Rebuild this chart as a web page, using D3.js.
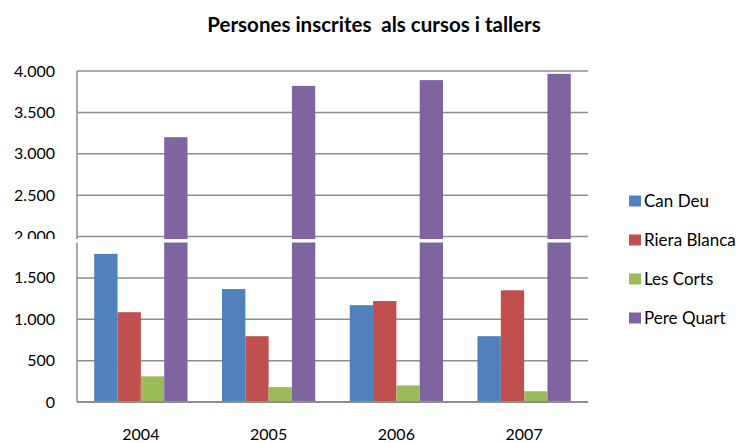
<!DOCTYPE html>
<html>
<head>
<meta charset="utf-8">
<script src="https://cdn.jsdelivr.net/npm/d3@7"></script>
<style>
	body { margin: 0; background: #fff; }
	text { font-family: Lato, "Open Sans", sans-serif; fill: #000; }
</style>
</head>
<body>
<svg id="chart" width="736" height="443"></svg>
<script>
const years = ['2004', '2005', '2006', '2007'];
const seriesNames = ['Can Deu', 'Riera Blanca', 'Les Corts', 'Pere Quart'];
const canDeu = [1790, 1365, 1170, 795];
const rieraBlanca = [1085, 795, 1220, 1350];
const lesCorts = [310, 180, 200, 130];
const pereQuart = [3200, 3820, 3890, 3965];
const yTicks = [0, 500, 1000, 1500, 2000, 2500, 3000, 3500, 4000];
const colors = ['#4f81bd', '#c0504d', '#9bbb59', '#8064a2'];

const values = [canDeu, rieraBlanca, lesCorts, pereQuart];
const svg = d3.select('#chart');
const margin = {left: 77, right: 148, top: 71, bottom: 41};
const width = 736 - margin.left - margin.right;
const height = 443 - margin.top - margin.bottom;

const locale = d3.formatLocale({decimal: ',', thousands: '.', grouping: [3], currency: ['', '€']});
const fmt = locale.format(',d');

const x = d3.scaleBand().domain(years).range([0, width]).paddingInner(0.27).paddingOuter(0.135);
const x1 = d3.scaleBand().domain(seriesNames).range([0, x.bandwidth()]);
const y = d3.scaleLinear().domain([0, 4000]).range([height, 0]);

const g = svg.append('g').attr('transform', `translate(${margin.left},${margin.top})`);

// gridlines
g.selectAll('.grid').data(yTicks.filter(d => d > 0)).join('line')
	.attr('class', 'grid')
	.attr('x1', 0).attr('x2', width)
	.attr('y1', d => y(d)).attr('y2', d => y(d))
	.attr('stroke', '#8e8e8e').attr('stroke-width', 1.5);

// bars
const groups = g.selectAll('.year').data(years).join('g')
	.attr('class', 'year')
	.attr('transform', d => `translate(${x(d)},0)`);

groups.selectAll('rect').data((yr, i) => seriesNames.map((s, k) => ({s, k, v: values[k][i]}))).join('rect')
	.attr('x', d => x1(d.s))
	.attr('width', x1.bandwidth())
	.attr('y', d => y(d.v))
	.attr('height', d => height - y(d.v))
	.attr('fill', d => colors[d.k]);

// axes
g.append('line').attr('x1', 0).attr('x2', 0).attr('y1', 0).attr('y2', height)
	.attr('stroke', '#8e8e8e').attr('stroke-width', 1.5);
g.append('line').attr('x1', 0).attr('x2', width).attr('y1', height).attr('y2', height)
	.attr('stroke', '#8e8e8e').attr('stroke-width', 2);

g.selectAll('.ylab').data(yTicks).join('text')
	.attr('class', 'ylab')
	.attr('x', -22).attr('y', d => y(d))
	.attr('dy', '0.35em')
	.attr('text-anchor', 'end')
	.style('font-size', '16px')
	.text(d => fmt(d));

g.selectAll('.xlab').data(years).join('text')
	.attr('class', 'xlab')
	.attr('x', d => x(d) + x.bandwidth() / 2)
	.attr('y', height + 32)
	.attr('dy', '0.35em')
	.attr('text-anchor', 'middle')
	.style('font-size', '16px')
	.text(d => d);

// axis break band just under the 2.000 line
svg.append('rect')
	.attr('x', 0).attr('width', margin.left + width + 8)
	.attr('y', margin.top + y(2000) + 2.5).attr('height', 3.5)
	.attr('fill', '#fff');

// title
svg.append('text')
	.attr('x', 374).attr('y', 25)
	.attr('dy', '0.35em')
	.attr('text-anchor', 'middle')
	.style('font-size', '20.5px').style('font-weight', 'bold')
	.attr('xml:space', 'preserve')
	.text('Persones inscrites  als cursos i tallers');

// legend
const legend = svg.append('g').attr('transform', 'translate(629,201)');
const items = legend.selectAll('g').data(seriesNames).join('g')
	.attr('transform', (d, i) => `translate(0,${i * 39})`);
items.append('rect').attr('x', 0).attr('y', -5.5).attr('width', 12).attr('height', 11)
	.attr('fill', (d, i) => colors[i]);
items.append('text').attr('x', 15).attr('y', 0).attr('dy', '0.35em')
	.style('font-size', '17px')
	.text(d => d);
</script>
</body>
</html>
